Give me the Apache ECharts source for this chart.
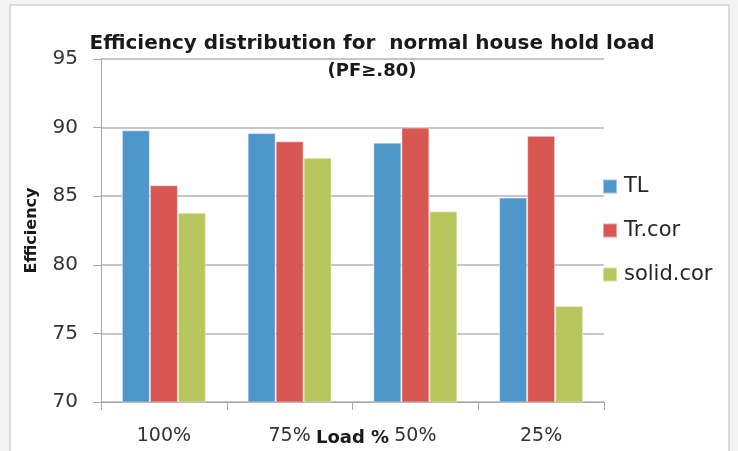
<!DOCTYPE html>
<html>
<head>
<meta charset="utf-8">
<script src="https://cdn.jsdelivr.net/npm/echarts@6/dist/echarts.min.js"></script>
<style>
  html, body { margin: 0; padding: 0; background: #f4f4f4; }
  #chart { width: 738px; height: 451px; }
</style>
</head>
<body>
<div id="chart"></div>
<script>
// Load levels and efficiency (%) of each configuration
const categories = ['100%', '75%', '50%', '25%'];
const tlValues = [89.8, 89.6, 88.9, 84.9];
const trCorValues = [85.8, 89.0, 90.0, 89.4];
const solidCorValues = [83.8, 87.8, 83.9, 77.0];
const yTicks = { min: 70, max: 95, interval: 5 };

const FONT = '"DejaVu Sans", sans-serif';
const colors = ['#4f96cb', '#d85752', '#b8c65e'];

const chart = echarts.init(document.getElementById('chart'));

function barSeries(name, data, color) {
  return {
    name: name,
    type: 'bar',
    data: data,
    barWidth: 28,
    barGap: '0%',
    itemStyle: { color: color, borderColor: 'rgba(255,255,255,0.45)', borderWidth: 1 }
  };
}

chart.setOption({
  backgroundColor: 'transparent',
  animation: false,
  color: colors,
  graphic: [
    {
      type: 'rect',
      shape: { x: 10, y: 5, width: 719, height: 460 },
      style: { fill: '#ffffff', stroke: '#bdbdbd', lineWidth: 1 },
      z: -10
    }
  ],
  title: {
    text: 'Efficiency distribution for  normal house hold load',
    subtext: '(PF\u2265.80)',
    left: 367,
    textAlign: 'center',
    top: 29,
    itemGap: 8,
    textStyle: { fontFamily: FONT, fontSize: 20, fontWeight: 'bold', color: '#1a1a1a' },
    subtextStyle: { fontFamily: FONT, fontSize: 18, fontWeight: 'bold', color: '#1a1a1a' }
  },
  legend: {
    orient: 'vertical',
    left: 597,
    top: 171,
    itemWidth: 14,
    itemHeight: 14,
    itemGap: 23,
    icon: 'rect',
    data: ['TL', 'Tr.cor', 'solid.cor'],
    textStyle: { fontFamily: FONT, fontSize: 21, color: '#262626', padding: [0, 0, 0, 2] }
  },
  grid: { left: 101, right: 134, top: 59, bottom: 49, outerBoundsMode: 'none' },
  xAxis: {
    type: 'category',
    data: categories,
    name: 'Load %',
    nameLocation: 'middle',
    nameGap: 27,
    nameMoveOverlap: false,
    nameTextStyle: { fontFamily: FONT, fontSize: 18, fontWeight: 'bold', color: '#1a1a1a' },
    axisLine: { lineStyle: { color: '#a6a6a6' } },
    axisTick: { show: true, length: 8, lineStyle: { color: '#a6a6a6' } },
    axisLabel: { fontFamily: FONT, fontSize: 19, color: '#333333', margin: 25 }
  },
  yAxis: {
    type: 'value',
    min: yTicks.min,
    max: yTicks.max,
    interval: yTicks.interval,
    name: 'Efficiency',
    nameLocation: 'middle',
    nameGap: 61,
    nameMoveOverlap: false,
    nameTextStyle: { fontFamily: FONT, fontSize: 16, fontWeight: 'bold', color: '#1a1a1a' },
    axisLine: { show: true, lineStyle: { color: '#a6a6a6' } },
    axisTick: { show: true, length: 8, inside: false, lineStyle: { color: '#a6a6a6' } },
    axisLabel: { fontFamily: FONT, fontSize: 20, color: '#333333', margin: 23 },
    splitLine: { lineStyle: { color: '#b3b3b3', width: 1.5 } }
  },
  series: [
    barSeries('TL', tlValues, colors[0]),
    barSeries('Tr.cor', trCorValues, colors[1]),
    barSeries('solid.cor', solidCorValues, colors[2])
  ]
});
</script>
</body>
</html>
